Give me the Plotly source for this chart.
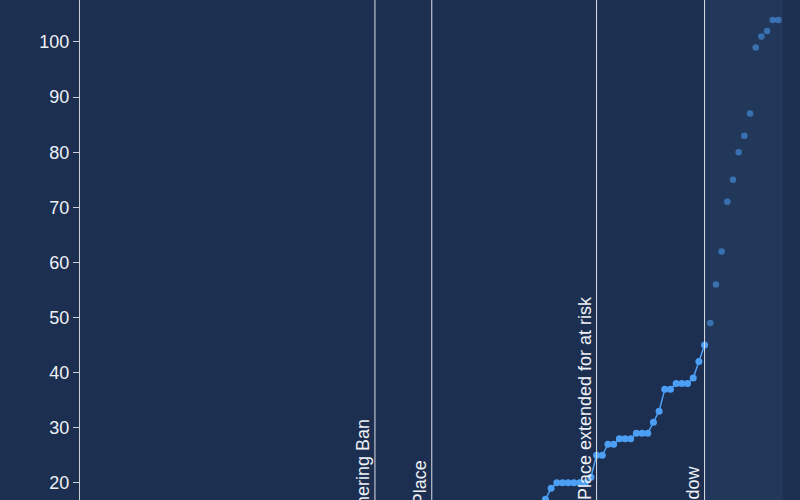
import pandas as pd
import plotly.graph_objects as go

# ---- data ----
confirmed_dates = pd.date_range("2020-04-06", periods=29, freq="D")
confirmed_values = [17, 19, 20, 20, 20, 20, 20, 20, 21, 25, 25, 27, 27, 28, 28, 28,
                    29, 29, 29, 31, 33, 37, 37, 38, 38, 38, 39, 42, 45]
recent_dates = pd.date_range("2020-05-05", periods=13, freq="D")
recent_values = [49, 56, 62, 71, 75, 80, 83, 87, 99, 101, 102, 104, 104]

event_dates = ["2020-03-07", "2020-03-17", "2020-04-15", "2020-05-04"]
event_labels = ["Mass Gathering Ban", "Shelter in Place",
                "Shelter in Place extended for at risk", "Delay Window"]
event_label_tops = [0.166, 0.083, 0.412, 0.072]

BG = "#1c2f50"
SHADE = "#22385a"
BLUE = "#4d9ff5"
TEXT = "#eef1f6"
FONT = "Liberation Sans, Arial, sans-serif"

fig = go.Figure()
fig.add_trace(go.Scatter(
    x=confirmed_dates, y=confirmed_values, mode="lines+markers",
    line=dict(color=BLUE, width=1.5), marker=dict(color=BLUE, size=7),
    showlegend=False))
fig.add_trace(go.Scatter(
    x=recent_dates, y=recent_values, mode="markers",
    marker=dict(color=BLUE, size=6.5, opacity=0.55),
    showlegend=False))

x0 = pd.Timestamp("2020-04-06")
x_range = [x0 + pd.Timedelta(days=-81.9), x0 + pd.Timedelta(days=41.8)]

shapes = [dict(type="rect", xref="x", yref="paper", x0=event_dates[-1], x1=x_range[1],
               y0=0, y1=1, fillcolor=SHADE, line=dict(width=0), layer="below")]
annotations = []
for d, lab, top in zip(event_dates, event_labels, event_label_tops):
    shapes.append(dict(type="line", xref="x", yref="paper", x0=d, x1=d, y0=0, y1=1,
                       line=dict(color="#dde1e8", width=1)))
    annotations.append(dict(x=d, y=top, xref="x", yref="paper", text=lab,
                            textangle=-90, showarrow=False, xanchor="right",
                            yanchor="top", font=dict(family=FONT, size=18, color=TEXT)))

fig.update_layout(
    width=800, height=500,
    margin=dict(l=80, r=17, t=0, b=0),
    paper_bgcolor=BG, plot_bgcolor=BG,
    font=dict(family=FONT, color=TEXT, size=18),
    shapes=shapes, annotations=annotations,
    hovermode=False,
    xaxis=dict(range=x_range, visible=False, showgrid=False, zeroline=False),
    yaxis=dict(range=[16.88, 107.62], dtick=10, tick0=0, showgrid=False, zeroline=False,
               showline=True, linecolor="#c9ced8", linewidth=1,
               ticks="outside", ticklen=6, tickcolor="#c9ced8",
               tickfont=dict(family=FONT, size=18, color=TEXT)),
)
fig.write_html("out.html", config={"displayModeBar": False},
               post_script="document.body.style.margin='0';document.body.style.overflow='hidden';")
